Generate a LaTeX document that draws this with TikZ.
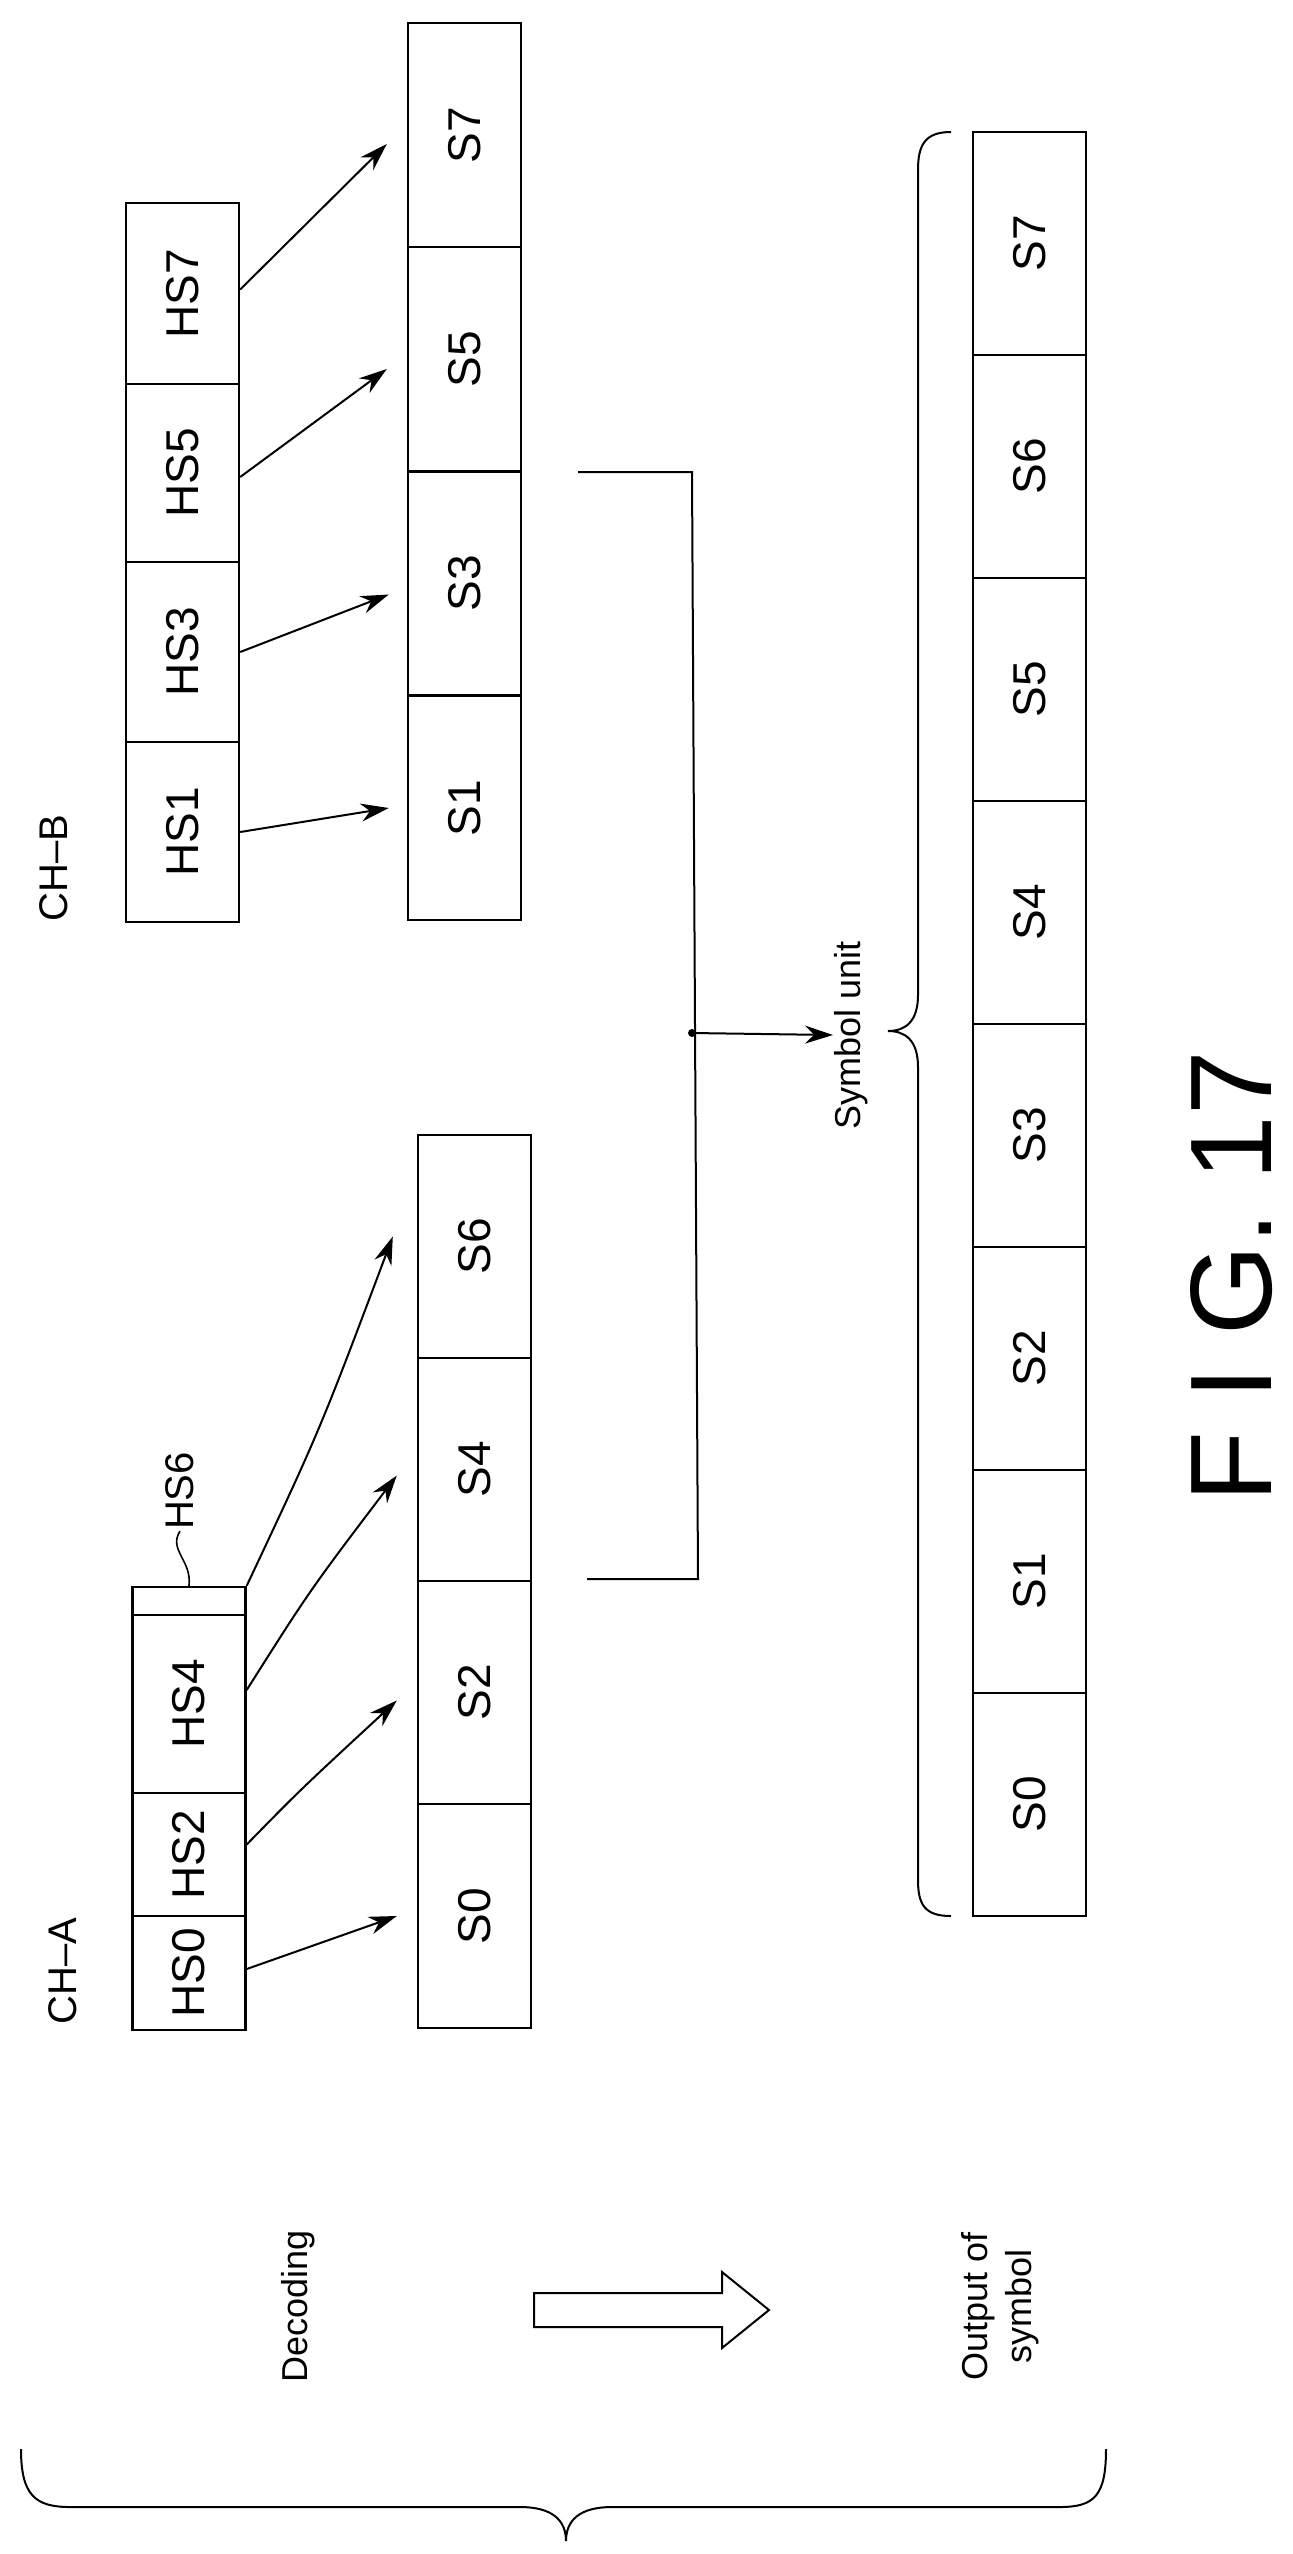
\documentclass[tikz,border=0pt]{standalone}
\usepackage{fontspec}
\setmainfont{Liberation Sans}
\usepackage{graphicx}
\usetikzlibrary{arrows.meta}
\begin{document}
\begin{tikzpicture}[x=0.5pt,y=-0.5pt,line width=1.2pt,
  cell/.style={draw,minimum width=56.5pt,inner sep=0pt,font=\fontsize{23}{26}\selectfont},
  arr/.style={-{Stealth[length=14pt,width=9pt]},line width=1pt},
  lab/.style={font=\fontsize{20}{24}\selectfont,inner sep=0pt}]
\useasboundingbox (0,0) rectangle (1293,2554);
% CH-B header cells
\node[cell,minimum height=90.5pt] (hb7) at (182.5,293.5) {\rotatebox{90}{HS7}};
\node[cell,minimum height=89pt] (hb5) at (182.5,473) {\rotatebox{90}{HS5}};
\node[cell,minimum height=90pt] (hb3) at (182.5,652) {\rotatebox{90}{HS3}};
\node[cell,minimum height=90pt] (hb1) at (182.5,832) {\rotatebox{90}{HS1}};
% CH-B symbols
\node[cell,minimum height=112pt] (sb7) at (464.5,135) {\rotatebox{90}{S7}};
\node[cell,minimum height=112pt] (sb5) at (464.5,359) {\rotatebox{90}{S5}};
\node[cell,minimum height=112pt] (sb3) at (464.5,583.5) {\rotatebox{90}{S3}};
\node[cell,minimum height=112pt] (sb1) at (464.5,808) {\rotatebox{90}{S1}};
% CH-A header cells
\node[cell,minimum height=14pt] (ha6) at (189,1601) {};
\node[cell,minimum height=89pt] (ha4) at (189,1704) {\rotatebox{90}{HS4}};
\node[cell,minimum height=61.5pt] (ha2) at (189,1854.5) {\rotatebox{90}{HS2}};
\node[cell,minimum height=57pt] (ha0) at (189,1973) {\rotatebox{90}{HS0}};
% CH-A symbols
\node[cell,minimum height=111.5pt] (sa6) at (474.5,1246.5) {\rotatebox{90}{S6}};
\node[cell,minimum height=111.5pt] (sa4) at (474.5,1469.5) {\rotatebox{90}{S4}};
\node[cell,minimum height=111.5pt] (sa2) at (474.5,1692.5) {\rotatebox{90}{S2}};
\node[cell,minimum height=112pt] (sa0) at (474.5,1916) {\rotatebox{90}{S0}};
% output
\foreach \n/\k in {S7/0,S6/1,S5/2,S4/3,S3/4,S2/5,S1/6,S0/7}{
  \node[cell,minimum height=111.5pt] (o\k) at (1029.5,243.5+223*\k) {\rotatebox{90}{\n}};
}
% labels
\node[lab] (chb) at (54,868) {\rotatebox{90}{CH--B}};
\node[lab] (cha) at (63,1971) {\rotatebox{90}{CH--A}};
\node[lab] (hs6) at (180,1491) {\rotatebox{90}{HS6}};
\draw[line width=0.8pt] (hs6.south) .. controls (168,1550) and (192,1560) .. (ha6.north);
\node[lab,font=\fontsize{18}{22}\selectfont] (su) at (851,1035) {\rotatebox{90}{Symbol unit}};
\node[lab,font=\fontsize{18}{22}\selectfont] (dec) at (298,2306) {\rotatebox{90}{Decoding}};
\node[lab,font=\fontsize{18}{22}\selectfont] (out) at (1001,2306) {\rotatebox{90}{\begin{tabular}{@{}c@{}}Output of\\symbol\end{tabular}}};
\node[font=\fontsize{58}{60}\selectfont,inner sep=0pt] (fig) at (1232,1277) {\rotatebox{90}{F I G. 17}};
% arrows CH-B
\draw[arr] (hb1.east) -- ([xshift=-9pt]sb1.west);
\draw[arr] (hb3.east) -- ([xshift=-9pt,yshift=-5.5pt]sb3.west);
\draw[arr] ([yshift=-2pt]hb5.east) -- ([xshift=-10pt,yshift=-5pt]sb5.west);
\draw[arr] ([yshift=2pt]hb7.east) -- ([xshift=-10pt,yshift=-4.5pt]sb7.west);
% arrows CH-A
\draw[arr] ([yshift=2pt]ha0.east) -- ([xshift=-10pt]sa0.west);
\draw[arr] ([yshift=5pt]ha2.east) .. controls (300,1790) .. ([xshift=-10pt,yshift=-4pt]sa2.west);
\draw[arr] ([yshift=7pt]ha4.east) .. controls (310,1590) .. ([xshift=-10pt,yshift=-3pt]sa4.west);
\draw[arr] (ha6.north east) .. controls (320,1430) .. ([xshift=-12pt,yshift=5pt]sa6.west);
% merge lines
\coordinate (dot) at (692,1033);
\draw[line width=1pt] (578,472) -- (692,472) -- (698,1579) -- (587,1579);
\fill (dot) circle (4);
\draw[arr] (dot) -- (su.west);
% hollow arrow
\draw[line width=1pt] (534,2293) -- (722,2293) -- (722,2272) -- (769,2310) -- (722,2348) -- (722,2327) -- (534,2327) -- cycle;
% braces
\draw[line width=1pt] (951,132) .. controls (925,132) and (918,145) .. (918,170) -- (918,995)
  .. controls (918,1022) and (905,1031) .. (888,1031) .. controls (905,1031) and (918,1040) .. (918,1067)
  -- (918,1880) .. controls (918,1905) and (925,1916) .. (951,1916);
\draw[line width=1pt] (21,2449) .. controls (21,2495) and (35,2507) .. (70,2507) -- (520,2507)
  .. controls (552,2507) and (566,2520) .. (566,2541) .. controls (566,2520) and (580,2507) .. (612,2507)
  -- (1060,2507) .. controls (1095,2507) and (1106,2495) .. (1106,2449);
\end{tikzpicture}
\end{document}
